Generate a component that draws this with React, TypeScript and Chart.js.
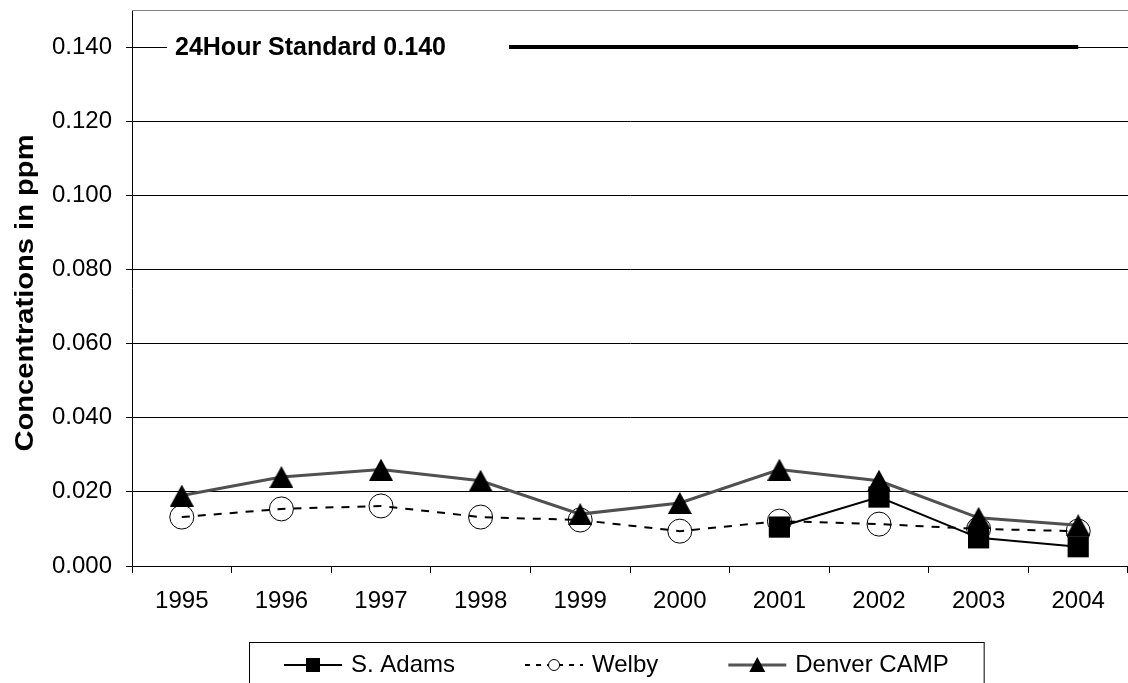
import React, { useEffect, useRef } from "react";
import { Chart, registerables } from "chart.js";

Chart.register(...registerables);

// ---- data ----
const years = ["1995", "1996", "1997", "1998", "1999", "2000", "2001", "2002", "2003", "2004"];
const sAdams = [null, null, null, null, null, null, 0.0105, 0.0186, 0.0076, 0.0052];
const welby = [0.0132, 0.0154, 0.0162, 0.0132, 0.0124, 0.0094, 0.0121, 0.0113, 0.01, 0.0094];
const denverCamp = [0.019, 0.024, 0.026, 0.023, 0.014, 0.017, 0.026, 0.023, 0.013, 0.011];
const standard24h = [0.14, 0.14, 0.14, 0.14, 0.14, 0.14, 0.14, 0.14, 0.14, 0.14];
const yTickValues = [0, 0.02, 0.04, 0.06, 0.08, 0.1, 0.12, 0.14];
const seriesNames = ["S. Adams", "Welby", "Denver CAMP"];
const standardLabel = "24Hour Standard 0.140";
const yTitle = "Concentrations in ppm";

const FONT = "'Liberation Sans', Arial, sans-serif";

type LegendItem = {
  label: string;
  color: string;
  width: number;
  dash: number[];
  marker: "rect" | "circle" | "triangle";
};

const legendItems: LegendItem[] = [
  { label: seriesNames[0], color: "#000", width: 2, dash: [], marker: "rect" },
  { label: seriesNames[1], color: "#000", width: 2, dash: [5, 6], marker: "circle" },
  { label: seriesNames[2], color: "#555", width: 3, dash: [], marker: "triangle" },
];

function makeTriangle(w: number, h: number): HTMLCanvasElement {
  const c = document.createElement("canvas");
  c.width = w;
  c.height = h;
  const g = c.getContext("2d")!;
  g.fillStyle = "#000";
  g.beginPath();
  g.moveTo(w / 2, 0);
  g.lineTo(w, h);
  g.lineTo(0, h);
  g.closePath();
  g.fill();
  return c;
}

function drawMarker(ctx: CanvasRenderingContext2D, kind: string, x: number, y: number) {
  ctx.save();
  ctx.setLineDash([]);
  if (kind === "rect") {
    ctx.fillStyle = "#000";
    ctx.fillRect(x - 7, y - 7, 14, 14);
  } else if (kind === "circle") {
    ctx.strokeStyle = "#000";
    ctx.lineWidth = 1;
    ctx.fillStyle = "#fff";
    ctx.beginPath();
    ctx.arc(x, y, 5.5, 0, Math.PI * 2);
    ctx.fill();
    ctx.stroke();
  } else {
    ctx.fillStyle = "#000";
    ctx.beginPath();
    ctx.moveTo(x, y - 8);
    ctx.lineTo(x + 8, y + 7);
    ctx.lineTo(x - 8, y + 7);
    ctx.closePath();
    ctx.fill();
  }
  ctx.restore();
}

const overlayPlugin = {
  id: "overlay",
  afterDatasetsDraw(chart: any) {
    const { ctx, chartArea, scales } = chart;
    ctx.save();
    // plot area top border
    ctx.strokeStyle = "#808080";
    ctx.lineWidth = 1;
    ctx.beginPath();
    ctx.moveTo(chartArea.left, Math.round(chartArea.top) + 0.5);
    ctx.lineTo(chartArea.right, Math.round(chartArea.top) + 0.5);
    ctx.stroke();
    // standard label (text box with white fill)
    const sy = scales.y.getPixelForValue(standard24h[0]);
    ctx.fillStyle = "#fff";
    ctx.fillRect(167, sy - 16, 342, 32);
    ctx.fillStyle = "#000";
    ctx.font = `bold 25px ${FONT}`;
    ctx.textAlign = "left";
    ctx.textBaseline = "middle";
    ctx.fillText(standardLabel, 175, sy + 1);
    ctx.restore();
  },
  afterDraw(chart: any) {
    const { ctx, chartArea } = chart;
    ctx.save();
    // y axis title
    ctx.translate(26, (chartArea.top + chartArea.bottom) / 2 + 5);
    ctx.rotate(-Math.PI / 2);
    ctx.scale(1.12, 1);
    ctx.font = `bold 26px ${FONT}`;
    ctx.fillStyle = "#000";
    ctx.textAlign = "center";
    ctx.textBaseline = "middle";
    ctx.fillText(yTitle, 0, 0);
    ctx.restore();

    // legend
    ctx.save();
    ctx.font = `24px ${FONT}`;
    const sampleW = 58;
    const gapText = 9;
    const gapItem = 70;
    const pad = 35;
    const widths = legendItems.map((it) => sampleW + gapText + ctx.measureText(it.label).width);
    const total = pad * 2 + widths.reduce((a, b) => a + b, 0) + gapItem * (legendItems.length - 1);
    const left = Math.round(616 - total / 2);
    const top = 642;
    ctx.strokeStyle = "#000";
    ctx.lineWidth = 1;
    ctx.strokeRect(left + 0.5, top + 0.5, total, 80);
    const cy = 665;
    let x = left + pad;
    legendItems.forEach((it, i) => {
      ctx.save();
      ctx.strokeStyle = it.color;
      ctx.lineWidth = it.width;
      ctx.setLineDash(it.dash);
      ctx.beginPath();
      ctx.moveTo(x, cy);
      ctx.lineTo(x + sampleW, cy);
      ctx.stroke();
      ctx.restore();
      drawMarker(ctx, it.marker, x + sampleW / 2, cy);
      ctx.fillStyle = "#000";
      ctx.textAlign = "left";
      ctx.textBaseline = "middle";
      ctx.fillText(it.label, x + sampleW + gapText, cy);
      x += widths[i] + gapItem;
    });
    ctx.restore();
  },
};

export default function App() {
  const canvasRef = useRef<HTMLCanvasElement | null>(null);

  useEffect(() => {
    const canvas = canvasRef.current;
    if (!canvas) return;
    const triangle = makeTriangle(24, 22);
    const chart = new Chart(canvas, {
      type: "line",
      data: {
        labels: years,
        datasets: [
          {
            label: seriesNames[0],
            data: sAdams,
            borderColor: "#000",
            borderWidth: 2,
            pointStyle: "rect",
            pointRadius: 15,
            pointBackgroundColor: "#000",
            pointBorderColor: "#000",
            pointBorderWidth: 0,
            spanGaps: false,
            order: 1,
          },
          {
            label: seriesNames[1],
            data: welby,
            borderColor: "#000",
            borderWidth: 2,
            borderDash: [8, 8],
            pointStyle: "circle",
            pointRadius: 12,
            pointBackgroundColor: "rgba(0,0,0,0)",
            pointBorderColor: "#000",
            pointBorderWidth: 1,
            order: 2,
          },
          {
            label: seriesNames[2],
            data: denverCamp,
            borderColor: "#505050",
            borderWidth: 3,
            pointStyle: triangle,
            pointRadius: 12,
            order: 0,
          },
          {
            label: "24Hour Standard",
            data: standard24h,
            borderColor: "#000",
            borderWidth: 4,
            pointRadius: 0,
            order: 3,
          },
        ],
      },
      options: {
        animation: false,
        responsive: false,
        devicePixelRatio: 1,
        events: [],
        layout: { autoPadding: false, padding: { top: 10, left: 0, right: 0, bottom: 0 } },
        plugins: {
          legend: { display: false },
          tooltip: { enabled: false },
          title: { display: false },
        },
        scales: {
          x: {
            type: "category",
            offset: true,
            grid: {
              display: true,
              offset: true,
              drawOnChartArea: false,
              drawTicks: true,
              tickLength: 7,
              color: "#000",
              lineWidth: 1,
            },
            border: { display: true, color: "#000", width: 1 },
            ticks: {
              font: { family: FONT, size: 24 },
              color: "#000",
              padding: 14,
              maxRotation: 0,
              autoSkip: false,
            },
            afterFit: (s: any) => {
              s.height = 117;
              s.paddingLeft = 0;
              s.paddingRight = 0;
            },
          },
          y: {
            min: 0,
            max: 0.15,
            afterBuildTicks: (s: any) => {
              s.ticks = yTickValues.map((v) => ({ value: v }));
            },
            grid: {
              color: "#000",
              lineWidth: 1,
              tickLength: 6,
            },
            border: { display: true, color: "#000", width: 1 },
            ticks: {
              font: { family: FONT, size: 24 },
              color: "#000",
              padding: 14,
              callback: (v: any) => Number(v).toFixed(3),
            },
            afterFit: (s: any) => {
              s.width = 132;
              s.paddingTop = 0;
              s.paddingBottom = 0;
            },
          },
        },
      },
      plugins: [overlayPlugin],
    });
    return () => chart.destroy();
  }, []);

  return (
    <div style={{ position: "absolute", left: 0, top: 0, width: 1128, height: 683, background: "#fff" }}>
      <canvas ref={canvasRef} width={1128} height={683} style={{ display: "block" }} />
    </div>
  );
}
